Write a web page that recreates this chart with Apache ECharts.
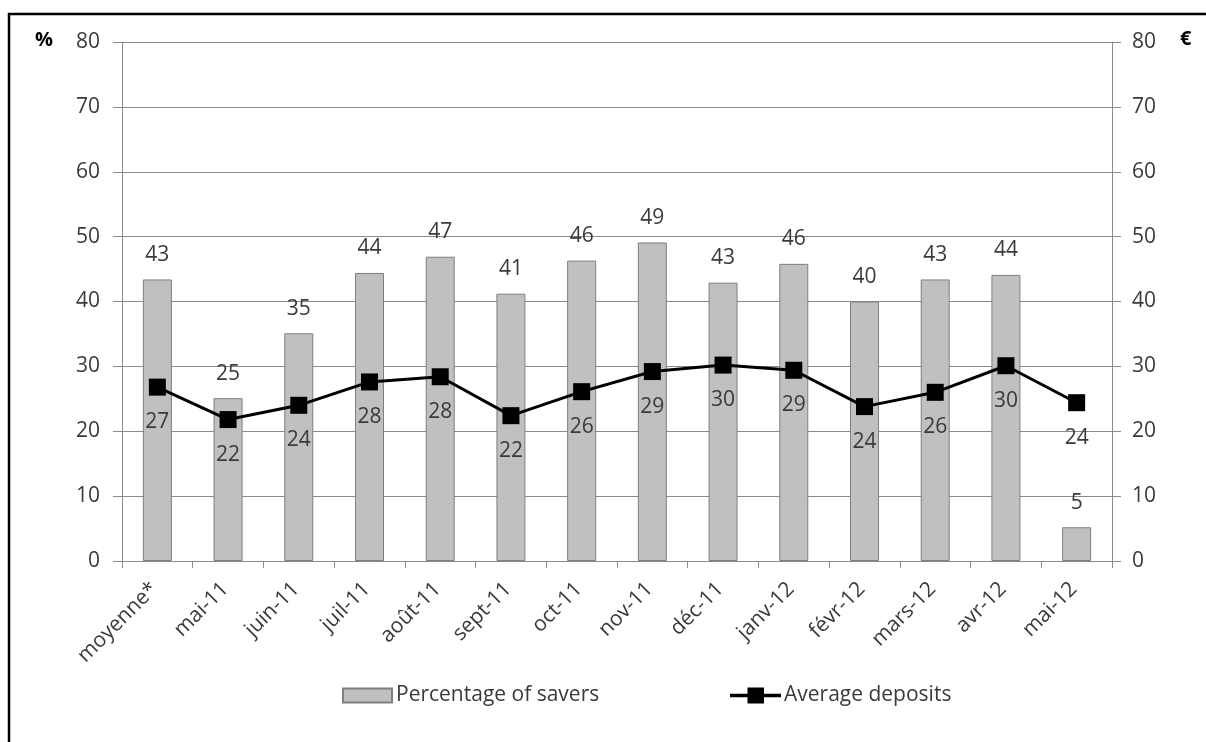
<!DOCTYPE html>
<html><head><meta charset="utf-8">
<script src="https://cdn.jsdelivr.net/npm/echarts@6/dist/echarts.min.js"></script>
<style>html,body{margin:0;padding:0;background:#fff}#c{width:1206px;height:742px}</style>
</head><body><div id="c"></div>
<script>
const categories = ['moyenne*','mai-11','juin-11','juil-11','août-11','sept-11','oct-11','nov-11','déc-11','janv-12','févr-12','mars-12','avr-12','mai-12'];
const savers = [43.4, 25.1, 35.1, 44.4, 46.9, 41.2, 46.3, 49.1, 42.9, 45.8, 40.0, 43.4, 44.1, 5.2];
const deposits = [26.8, 21.8, 24.0, 27.6, 28.4, 22.4, 26.1, 29.2, 30.2, 29.4, 23.8, 26.0, 30.1, 24.4];
const seriesNames = ['Percentage of savers', 'Average deposits'];
const axisUnits = ['%', '€'];
const yMin = 0, yMax = 80, yStep = 10;

const FONT = 'Open Sans';
const FS = 21;
const txt = '#3a3a3a';
const gridCol = '#8a8a8a';
const chart = echarts.init(document.getElementById('c'));
const yAxisBase = {
  type: 'value', min: yMin, max: yMax, interval: yStep,
  axisLine: {show: true, lineStyle: {color: gridCol, width: 1}},
  axisTick: {show: true, length: 9, lineStyle: {color: gridCol}},
  splitLine: {show: true, lineStyle: {color: gridCol, width: 1}},
  axisLabel: {color: txt, fontFamily: FONT, fontSize: FS}
};
chart.setOption({
  animation: false,
  textStyle: {fontFamily: FONT},
  grid: {left: 122, right: 94, top: 42, bottom: 181, containLabel: false},
  graphic: [
    {type: 'rect', shape: {x: 9, y: 14, width: 1400, height: 900}, style: {fill: 'none', stroke: '#000', lineWidth: 2.5}},
    {type: 'text', left: 35, top: 30, style: {text: axisUnits[0], font: 'bold 20px "Open Sans"', fill: '#000'}},
    {type: 'text', left: 1180, top: 29, style: {text: axisUnits[1], font: 'bold 20px "Open Sans"', fill: '#000'}}
  ],
  legend: [
    {data: [{name: seriesNames[0], icon: 'rect'}], left: 337, top: 680, itemWidth: 49, itemHeight: 14, itemGap: 4,
     textStyle: {color: txt, fontFamily: FONT, fontSize: FS, padding: [0,0,0,-1]}},
    {data: [{name: seriesNames[1], icon: 'path://M0,6.3 L51,6.3 L51,9.7 L0,9.7 Z M17.5,0 L34,0 L34,16 L17.5,16 Z'}],
     left: 725, top: 680, itemWidth: 51, itemHeight: 16, itemGap: 4, symbolKeepAspect: false,
     textStyle: {color: txt, fontFamily: FONT, fontSize: FS, padding: [0,0,0,-2]}}
  ],
  xAxis: {
    type: 'category', data: categories, boundaryGap: true,
    axisLine: {show: true, lineStyle: {color: gridCol, width: 1}},
    axisTick: {show: true, length: 7, interval: 0, lineStyle: {color: gridCol}},
    axisLabel: {color: txt, fontFamily: FONT, fontSize: FS, rotate: 45, interval: 0, margin: 22, padding: [0, 4, 0, 0]}
  },
  yAxis: [
    Object.assign({}, yAxisBase, {position: 'left', axisLabel: Object.assign({}, yAxisBase.axisLabel, {margin: 22})}),
    Object.assign({}, yAxisBase, {position: 'right', splitLine: {show: false}, axisLabel: Object.assign({}, yAxisBase.axisLabel, {margin: 20})})
  ],
  series: [
    {name: seriesNames[0], type: 'bar', data: savers, yAxisIndex: 0, barWidth: 29,
     itemStyle: {color: '#c0c0c0', borderColor: '#7f7f7f', borderWidth: 1},
     label: {show: true, position: 'top', distance: 14, color: txt, fontFamily: FONT, fontSize: FS,
             formatter: p => Math.round(p.value)}},
    {name: seriesNames[1], type: 'line', data: deposits, yAxisIndex: 1,
     symbol: 'rect', symbolSize: 17, lineStyle: {color: '#000', width: 3}, itemStyle: {color: '#000'},
     label: {show: true, position: 'bottom', distance: 16, color: txt, fontFamily: FONT, fontSize: FS,
             formatter: p => Math.round(p.value)}}
  ]
});
</script></body></html>
